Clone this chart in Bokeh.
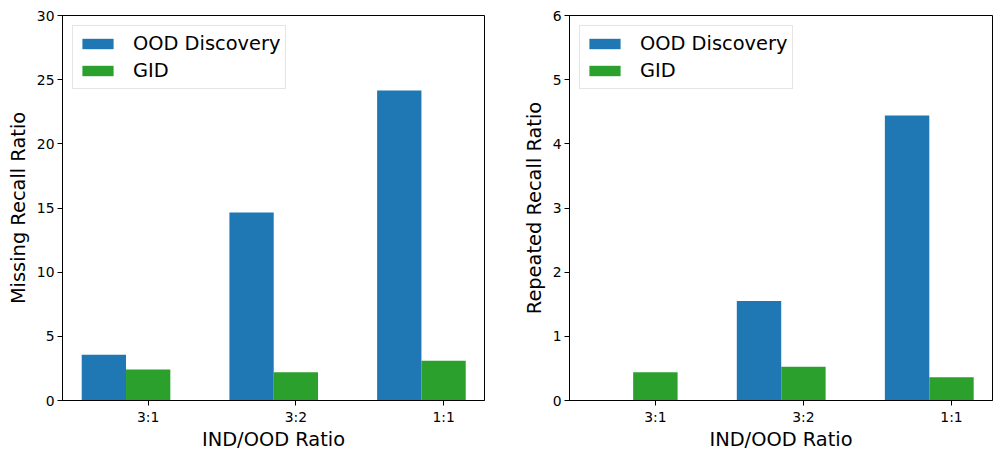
from bokeh.plotting import figure
from bokeh.models import Range1d, FixedTicker, ColumnDataSource, Legend, LegendItem
from bokeh.transform import dodge
from bokeh.layouts import row
from bokeh.embed import file_html
from bokeh.resources import INLINE

categories = ["3:1", "3:2", "1:1"]
series_names = ["OOD Discovery", "GID"]
missing_ood = [3.56, 14.65, 24.16]
missing_gid = [2.42, 2.21, 3.09]
repeated_ood = [0.0, 1.55, 4.44]
repeated_gid = [0.44, 0.525, 0.363]
left_ticks = [0, 5, 10, 15, 20, 25, 30]
right_ticks = [0, 1, 2, 3, 4, 5, 6]

BLUE = "#1f77b4"
GREEN = "#2ca02c"
FONT = "DejaVu Sans"


def make_panel(ood, gid, ymax, yticks, ylabel, border_left, border_right, fw):
    idx = list(range(len(categories)))
    src = ColumnDataSource(dict(x=idx, ood=ood, gid=gid))
    p = figure(frame_width=fw, frame_height=385, output_backend="svg",
               toolbar_location=None,
               x_range=Range1d(-0.58, 2.277), y_range=Range1d(0, ymax),
               min_border_left=border_left, min_border_right=border_right,
               min_border_top=15, min_border_bottom=46)
    r1 = p.vbar(x=dodge("x", -0.3, range=p.x_range), top="ood", width=0.3,
                source=src, fill_color=BLUE, line_color=None)
    r2 = p.vbar(x=dodge("x", 0.0, range=p.x_range), top="gid", width=0.3,
                source=src, fill_color=GREEN, line_color=None)
    p.xgrid.visible = False
    p.ygrid.visible = False
    p.outline_line_color = "black"
    p.outline_line_width = 1
    p.background_fill_color = "white"

    p.xaxis.ticker = FixedTicker(ticks=idx)
    p.xaxis.major_label_overrides = {i: c for i, c in zip(idx, categories)}
    p.yaxis.ticker = FixedTicker(ticks=yticks)
    for ax in (p.xaxis[0], p.yaxis[0]):
        ax.axis_line_color = "black"
        ax.major_tick_line_color = "black"
        ax.major_tick_out = 5
        ax.major_tick_in = 0
        ax.minor_tick_line_color = None
        ax.major_label_text_font = FONT
        ax.major_label_text_font_size = "13.9px"
        ax.major_label_text_color = "black"
        ax.major_label_standoff = 3
        ax.axis_label_text_font = FONT
        ax.axis_label_text_font_size = "19.4px"
        ax.axis_label_text_font_style = "normal"
        ax.axis_label_text_color = "black"
    p.xaxis.axis_label_standoff = 0
    p.yaxis.axis_label_standoff = 4
    p.xaxis.axis_label = "IND/OOD Ratio"
    p.yaxis.axis_label = ylabel

    legend = Legend(items=[LegendItem(label=series_names[0], renderers=[r1]),
                           LegendItem(label=series_names[1], renderers=[r2])],
                    location="top_left", margin=10, padding=5, spacing=2,
                    glyph_width=39, glyph_height=13, label_height=25,
                    label_standoff=16,
                    label_text_font=FONT, label_text_font_size="19.4px",
                    label_text_color="black",
                    border_line_color="#cccccc", border_line_width=1,
                    background_fill_alpha=0.8)
    p.add_layout(legend)
    return p


p1 = make_panel(missing_ood, missing_gid, 30, left_ticks,
                "Missing Recall Ratio", 62, 24, 422)
p2 = make_panel(repeated_ood, repeated_gid, 6, right_ticks,
                "Repeated Recall Ratio", 61, 2, 423)

layout = row(p1, p2)
open("out.html", "w").write(file_html(layout, INLINE))
